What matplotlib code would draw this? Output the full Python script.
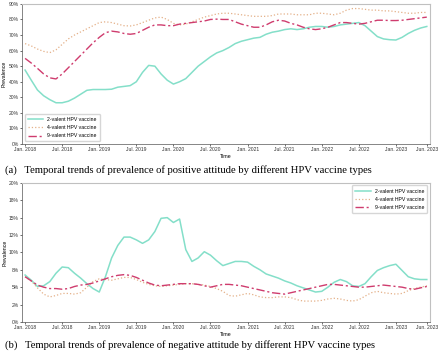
import matplotlib
matplotlib.use("Agg")
import matplotlib.pyplot as plt
import numpy as np
from matplotlib.ticker import PercentFormatter

plt.rcParams['font.family'] = ['Liberation Sans', 'DejaVu Sans']

# 月份 (Jan 2018 - Jun 2023)
months = np.arange(66)
tick_pos = [0, 6, 12, 18, 24, 30, 36, 42, 48, 54, 60, 65]
tick_labels = ['Jan. 2018', 'Jul. 2018', 'Jan. 2019', 'Jul. 2019', 'Jan. 2020', 'Jul. 2020',
               'Jan. 2021', 'Jul. 2021', 'Jan. 2022', 'Jul. 2022', 'Jan. 2023', 'Jun. 2023']
names = ['2-valent HPV vaccine', '4-valent HPV vaccine', '9-valent HPV vaccine']

# positive attitude (%)
pos_2v = [47.5, 41, 34.7, 31, 28.5, 26.5, 26.5, 27.5, 29.5, 32, 34.5, 35,
          35, 35, 35.2, 36.5, 37, 37.5, 40, 46, 50.5, 50, 45, 41,
          38.5, 40, 42, 46, 50, 53, 56, 58.5, 60, 62, 64.5, 66,
          67, 68, 68.5, 70.5, 71.8, 72.5, 73.5, 74, 73.5, 74, 75, 75.5,
          75.5, 75, 75.5, 76.5, 77, 77.5, 78, 76, 72.5, 69, 67.5, 67,
          66.8, 68.5, 71, 73, 74.5, 75.5]
pos_4v = [64.5, 63, 61, 59.5, 58.7, 60.5, 64, 67.5, 70, 72, 74, 76,
          78, 78.5, 78, 77, 76, 75.8, 76.5, 78, 79.5, 81, 81.5, 80,
          77.5, 76.5, 77, 78.5, 80, 81.5, 82.5, 83.5, 84, 84, 83.5, 83,
          82.5, 82, 82, 82, 82.5, 83.5, 83.5, 83.5, 83, 83, 83, 84,
          84, 83.5, 83, 84, 86, 87, 87, 86.5, 86, 86, 85.5, 85.5,
          85, 84.5, 84, 84, 84.5, 84.5]
pos_9v = [55, 52, 48.6, 45, 42.5, 41.8, 45, 49, 53, 57, 61, 65,
          68.5, 71.5, 72.5, 72, 71, 70.5, 71, 73, 75, 76.5, 76.5, 76,
          76, 77, 77.5, 78, 78.5, 79, 80, 80.2, 80, 80, 78.5, 77,
          76, 75, 75, 76.5, 78.5, 79.5, 79, 77.5, 76.5, 75, 74, 73.5,
          74, 75, 76.5, 78, 78, 77.5, 77, 77.5, 78.5, 79.5, 79.5, 79.3,
          79.3, 79.5, 80, 80.5, 81, 81.5]

# negative attitude (%)
neg_2v = [6.75, 6.0, 5.1, 5.2, 5.8, 7.0, 7.9, 7.8, 7.0, 6.3, 5.5, 4.8,
          4.3, 6.5, 9.2, 11.0, 12.2, 12.2, 11.8, 11.3, 11.8, 13.0, 14.9, 15.0,
          14.3, 14.8, 10.4, 8.7, 9.2, 10.1, 9.6, 8.8, 8.1, 8.4, 8.7, 8.7,
          8.6, 8.0, 7.5, 6.9, 6.6, 6.3, 5.9, 5.6, 5.2, 4.9, 4.6, 4.3,
          4.4, 5.0, 5.7, 6.1, 5.8, 5.2, 5.1, 5.5, 6.5, 7.4, 7.8, 8.1,
          8.3, 7.4, 6.5, 6.2, 6.1, 6.1]
neg_4v = [6.5, 5.9, 4.9, 4.0, 3.6, 3.8, 4.1, 4.1, 4.0, 4.2, 5.0, 5.8,
          6.2, 6.1, 6.0, 6.2, 6.4, 6.4, 6.1, 5.7, 5.4, 5.2, 5.1, 5.2,
          5.3, 5.4, 5.5, 5.5, 5.4, 5.3, 5.1, 4.8, 4.4, 3.8, 3.7, 3.9,
          4.1, 3.9, 3.6, 3.5, 3.5, 3.6, 3.6, 3.5, 3.2, 3.0, 3.0, 3.0,
          3.1, 3.3, 3.4, 3.3, 3.1, 3.0, 3.2, 3.7, 4.2, 4.4, 4.2, 4.1,
          4.0, 4.1, 4.5, 4.8, 5.0, 5.2]
neg_9v = [6.5, 5.9, 5.3, 5.0, 4.8, 4.8, 4.7, 4.8, 5.1, 5.3, 5.4, 5.6,
          5.9, 6.2, 6.5, 6.7, 6.8, 6.7, 6.4, 6.0, 5.6, 5.3, 5.2, 5.3,
          5.4, 5.5, 5.5, 5.5, 5.4, 5.2, 5.0, 5.2, 5.4, 5.4, 5.3, 5.2,
          5.0, 4.8, 4.6, 4.4, 4.2, 4.1, 4.0, 4.2, 4.4, 4.6, 4.8, 5.0,
          5.2, 5.4, 5.4, 5.3, 5.2, 5.1, 5.0, 5.0, 5.1, 5.2, 5.3, 5.2,
          5.1, 5.0, 4.8, 4.7, 4.9, 5.1]

colors = ['#84dfc9', '#e4b088', '#cf3c6e']
styles = [dict(ls='-', lw=1.1), dict(ls=':', lw=0.9), dict(ls=(0, (6, 2, 1.5, 2)), lw=1.0)]

fig = plt.figure(figsize=(4.4, 3.53), dpi=100)
ax1 = fig.add_axes([0.05, 0.592, 0.927, 0.397])
ax2 = fig.add_axes([0.05, 0.088, 0.927, 0.394])


def style_axis(ax):
    ax.set_xlim(-0.5, 65.5)
    ax.set_xticks(tick_pos)
    ax.set_xticklabels(tick_labels)
    ax.tick_params(labelsize=3.6, length=1.5, width=0.5, pad=1, colors='#333333')
    ax.set_xlabel('Time', fontsize=3.8, labelpad=1)
    ax.set_ylabel('Prevalence', fontsize=3.8, labelpad=1)
    for s in ax.spines.values():
        s.set_color('#c0c0c0')
        s.set_linewidth(0.8)
    ax.spines['left'].set_color('#555555')
    ax.spines['left'].set_linewidth(0.5)
    ax.spines['bottom'].set_color('#555555')
    ax.spines['bottom'].set_linewidth(0.5)


for vals, c, st, nm in zip([pos_2v, pos_4v, pos_9v], colors, styles, names):
    ax1.plot(months, vals, color=c, label=nm, **st)
ax1.set_ylim(0, 90)
ax1.set_yticks(np.arange(0, 91, 10))
ax1.yaxis.set_major_formatter(PercentFormatter(decimals=0))
style_axis(ax1)
ax1.legend(loc='lower left', fontsize=3.7, frameon=True, edgecolor='#cccccc',
           handlelength=3, borderpad=0.6, labelspacing=0.6)

for vals, c, st, nm in zip([neg_2v, neg_4v, neg_9v], colors, styles, names):
    ax2.plot(months, vals, color=c, label=nm, **st)
ax2.set_ylim(0, 20)
ax2.set_yticks(np.arange(0, 20.1, 2.5))
ax2.yaxis.set_major_formatter(PercentFormatter(decimals=0))
style_axis(ax2)
ax2.legend(loc='upper right', fontsize=3.7, frameon=True, edgecolor='#cccccc',
           handlelength=3, borderpad=0.6, labelspacing=0.6)

fig.text(0.011, 0.518, '(a)   Temporal trends of prevalence of positive attitude by different HPV vaccine types',
         fontsize=7.7, family=['Liberation Serif', 'DejaVu Serif'], va='center')
fig.text(0.011, 0.022, '(b)   Temporal trends of prevalence of negative attitude by different HPV vaccine types',
         fontsize=7.7, family=['Liberation Serif', 'DejaVu Serif'], va='center')

fig.savefig('out.png', dpi=100)
